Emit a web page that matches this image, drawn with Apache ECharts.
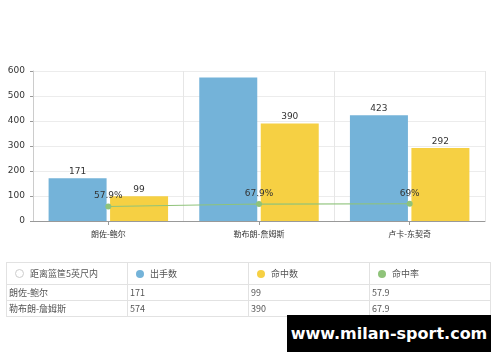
<!DOCTYPE html>
<html><head><meta charset="utf-8">
<script src="https://cdn.jsdelivr.net/npm/echarts@6/dist/echarts.min.js"></script>
<style>
html,body{margin:0;padding:0;background:#fff;}
#c{position:absolute;left:0;top:0;width:500px;height:362px;}
#tbl{position:absolute;left:6px;top:262px;width:485px;height:55px;overflow:hidden;font-family:"Noto Sans CJK SC","Noto Sans",sans-serif;font-size:9px;color:#555;}
#tbl table{border-collapse:collapse;width:485px;table-layout:fixed;}
#tbl td{border:1px solid #e2e2e2;padding:0 0 0 2px;height:15px;line-height:15px;white-space:nowrap;}
#tbl tr.h td{height:21px;line-height:21px;padding-left:8px;}
.dot{display:inline-block;width:8px;height:8px;border-radius:50%;vertical-align:-1px;margin-right:6px;}
#wm{position:absolute;left:287px;top:315px;width:204px;height:37px;background:#000;color:#fff;font-family:"DejaVu Sans",sans-serif;font-weight:bold;font-size:16px;line-height:37px;text-align:center;}
</style></head>
<body>
<div id="c"></div>
<div id="tbl"></div>
<div id="wm">www.milan-sport.com</div>
<script>
var tableTitle = '距离篮筐5英尺内';
var categories = ['朗佐-鲍尔', '勒布朗-詹姆斯', '卢卡-东契奇'];
var seriesNames = ['出手数', '命中数', '命中率'];
var attempts = [171, 574, 423];
var makes = [99, 390, 292];
var pct = [57.9, 67.9, 69];
var yTicks = [0, 100, 200, 300, 400, 500, 600];
var colors = ['#74b3d9', '#f6d043', '#8fc37a'];

var chart = echarts.init(document.getElementById('c'));
var lbl = {show: true, position: 'top', color: '#333', fontSize: 9, distance: 2, fontFamily: 'DejaVu Sans'};
// the tallest bar's label is not shown in the reference (it runs into the top edge)
var attemptsData = attempts.map(function (v) {
  return v > 550 ? {value: v, label: {show: false}} : v;
});
chart.setOption({
  animation: false,
  grid: {left: 33, right: 15, top: 71, bottom: 141},
  xAxis: {
    type: 'category', data: categories,
    axisLine: {lineStyle: {color: '#999'}},
    axisTick: {show: true, alignWithLabel: true, length: 4, lineStyle: {color: '#999'}},
    axisLabel: {color: '#333', fontSize: 8, margin: 9, fontFamily: 'Noto Sans CJK SC'},
    splitLine: {show: true, lineStyle: {color: '#e6e6e6'}}
  },
  yAxis: {
    type: 'value', min: yTicks[0], max: yTicks[yTicks.length - 1], interval: 100,
    axisLine: {show: true, lineStyle: {color: '#ccc'}},
    axisTick: {show: true, length: 3, lineStyle: {color: '#999'}},
    axisLabel: {color: '#333', fontSize: 9, margin: 8, fontFamily: 'DejaVu Sans'},
    splitLine: {lineStyle: {color: '#ececec'}}
  },
  series: [
    {name: seriesNames[0], type: 'bar', data: attemptsData, barWidth: 58, barGap: '6%', itemStyle: {color: colors[0]}, label: lbl},
    {name: seriesNames[1], type: 'bar', data: makes, barWidth: 58, itemStyle: {color: colors[1]}, label: lbl},
    {name: seriesNames[2], type: 'line', data: pct, symbol: 'circle', symbolSize: 6,
      itemStyle: {color: colors[2]}, lineStyle: {color: colors[2], width: 1.2},
      label: {show: true, position: 'top', color: '#333', fontSize: 9, distance: 3, fontFamily: 'DejaVu Sans', formatter: '{c}%'}}
  ]
});

var html = '<table><tr class="h"><td><span class="dot" style="background:#fff;border:1px solid #ccc;width:7px;height:7px"></span>' + tableTitle + '</td>';
for (var i = 0; i < seriesNames.length; i++) {
  html += '<td><span class="dot" style="background:' + colors[i] + '"></span>' + seriesNames[i] + '</td>';
}
html += '</tr>';
for (var r = 0; r < categories.length; r++) {
  html += '<tr><td>' + categories[r] + '</td><td>' + attempts[r] + '</td><td>' + makes[r] + '</td><td>' + pct[r] + '</td></tr>';
}
html += '</table>';
document.getElementById('tbl').innerHTML = html;
</script>
</body></html>
